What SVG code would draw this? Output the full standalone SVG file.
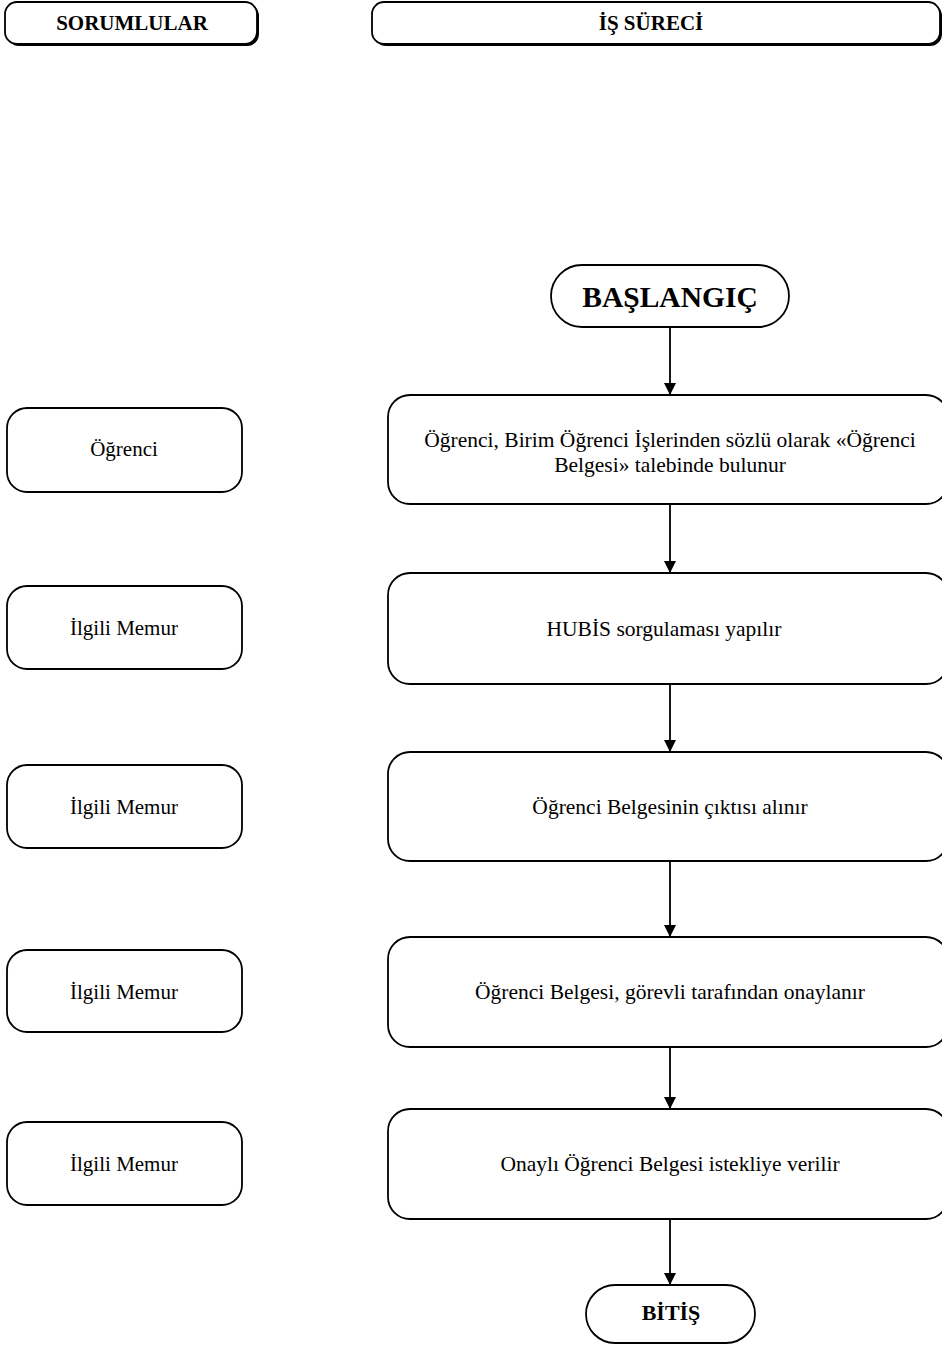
<svg xmlns="http://www.w3.org/2000/svg" width="942" height="1345" viewBox="0 0 942 1345">
<defs>
<marker id="arr" markerWidth="12" markerHeight="12" refX="11" refY="6" orient="auto" markerUnits="userSpaceOnUse">
<path d="M0,0 L12,6 L0,12 z" fill="#000"/>
</marker>
<style>
.box{fill:#fff;stroke:#000;stroke-width:1.8}
.sh{fill:#000}
.t{font-family:"Liberation Serif",serif;font-size:21.5px;fill:#000;text-anchor:middle}
.tl{font-family:"Liberation Serif",serif;font-size:21px;fill:#000;text-anchor:middle}
.h{font-family:"Liberation Serif",serif;font-size:21px;font-weight:bold;fill:#000;text-anchor:middle}
.c{stroke:#000;stroke-width:1.8;fill:none}
</style>
</defs>
<rect width="942" height="1345" fill="#fff"/>
<g id="hdr-sorumlular">
<rect class="sh" x="7" y="4" width="252" height="42" rx="12"/>
<rect class="box" x="5" y="2" width="252" height="42" rx="12"/>
<text class="h" x="132" y="30">SORUMLULAR</text>
</g>
<g id="hdr-surec">
<rect class="sh" x="374" y="4" width="568" height="42" rx="12"/>
<rect class="box" x="372" y="2" width="568" height="42" rx="12"/>
<text class="h" x="651" y="30" font-size="22">İŞ SÜRECİ</text>
</g>
<g id="start">
<rect class="box" x="551" y="265" width="238" height="62" rx="31"/>
<text x="670" y="307" font-family="Liberation Serif, serif" font-size="29.5" font-weight="bold" text-anchor="middle">BAŞLANGIÇ</text>
</g>
<g id="r1"><rect class="box" x="7" y="408" width="235" height="84" rx="20"/><text class="tl" x="124" y="456">Öğrenci</text></g>
<g id="r2"><rect class="box" x="7" y="586" width="235" height="83" rx="20"/><text class="tl" x="124" y="635">İlgili Memur</text></g>
<g id="r3"><rect class="box" x="7" y="765" width="235" height="83" rx="20"/><text class="tl" x="124" y="814">İlgili Memur</text></g>
<g id="r4"><rect class="box" x="7" y="950" width="235" height="82" rx="20"/><text class="tl" x="124" y="999">İlgili Memur</text></g>
<g id="r5"><rect class="box" x="7" y="1122" width="235" height="83" rx="20"/><text class="tl" x="124" y="1171">İlgili Memur</text></g>
<g id="p1"><rect class="box" x="388" y="395" width="560" height="109" rx="22"/>
<text class="t" x="670" y="447">Öğrenci, Birim Öğrenci İşlerinden sözlü olarak «Öğrenci</text>
<text class="t" x="670" y="472">Belgesi» talebinde bulunur</text></g>
<g id="p2"><rect class="box" x="388" y="573" width="560" height="111" rx="22"/><text class="t" x="664" y="636">HUBİS sorgulaması yapılır</text></g>
<g id="p3"><rect class="box" x="388" y="752" width="560" height="109" rx="22"/><text class="t" x="670" y="814">Öğrenci Belgesinin çıktısı alınır</text></g>
<g id="p4"><rect class="box" x="388" y="937" width="560" height="110" rx="22"/><text class="t" x="670" y="999">Öğrenci Belgesi, görevli tarafından onaylanır</text></g>
<g id="p5"><rect class="box" x="388" y="1109" width="560" height="110" rx="22"/><text class="t" x="670" y="1171">Onaylı Öğrenci Belgesi istekliye verilir</text></g>
<g id="end"><rect class="box" x="586" y="1285" width="169" height="58" rx="29"/>
<text x="671" y="1320" font-family="Liberation Serif, serif" font-size="22" font-weight="bold" text-anchor="middle">BİTİŞ</text></g>
<g id="connectors">
<line class="c" x1="670" y1="327" x2="670" y2="394" marker-end="url(#arr)"/>
<line class="c" x1="670" y1="504" x2="670" y2="572" marker-end="url(#arr)"/>
<line class="c" x1="670" y1="684" x2="670" y2="751" marker-end="url(#arr)"/>
<line class="c" x1="670" y1="861" x2="670" y2="936" marker-end="url(#arr)"/>
<line class="c" x1="670" y1="1047" x2="670" y2="1108" marker-end="url(#arr)"/>
<line class="c" x1="670" y1="1219" x2="670" y2="1284" marker-end="url(#arr)"/>
</g>
</svg>
